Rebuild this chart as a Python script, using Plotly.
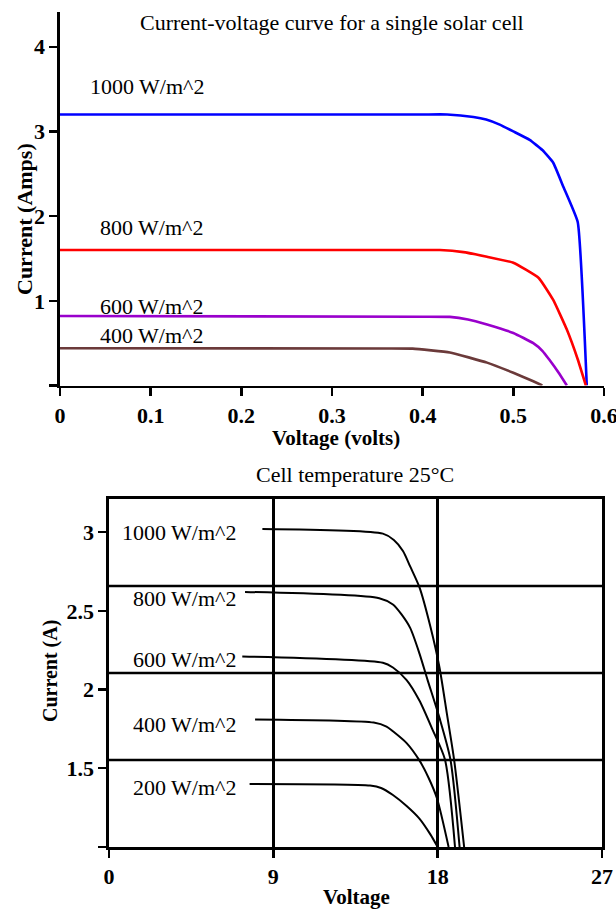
import plotly.graph_objects as go

W, H = 616, 909

# ---------------- data: top chart (single solar cell) ----------------
v1000 = [0.0, 0.40, 0.427, 0.456, 0.47, 0.485, 0.50, 0.518, 0.532, 0.544, 0.555, 0.571, 0.581]
i1000 = [3.2, 3.2, 3.2, 3.17, 3.14, 3.08, 3.0, 2.90, 2.78, 2.63, 2.35, 1.93, 0.0]
v800 = [0.0, 0.39, 0.419, 0.445, 0.471, 0.50, 0.528, 0.544, 0.559, 0.571, 0.58]
i800 = [1.6, 1.6, 1.6, 1.575, 1.52, 1.45, 1.27, 1.01, 0.66, 0.31, 0.0]
v600 = [0.0, 0.40, 0.43, 0.45, 0.471, 0.50, 0.522, 0.532, 0.54, 0.55, 0.559]
i600 = [0.82, 0.812, 0.81, 0.78, 0.72, 0.62, 0.50, 0.41, 0.30, 0.15, 0.0]
v400 = [0.0, 0.36, 0.389, 0.43, 0.471, 0.50, 0.522, 0.532]
i400 = [0.44, 0.437, 0.435, 0.39, 0.27, 0.15, 0.05, 0.0]
top_labels = ["1000 W/m^2", "800 W/m^2", "600 W/m^2", "400 W/m^2"]
top_label_v = [0.031, 0.042, 0.042, 0.042]
top_label_i = [3.53, 1.87, 0.93, 0.585]
top_colors = ["#0000ff", "#ff0000", "#9900cc", "#6b3a3a"]
top_xticks = [0, 0.1, 0.2, 0.3, 0.4, 0.5, 0.6]
top_yticks = [0, 1, 2, 3, 4]
top_yticktext = ["", "1", "2", "3", "4"]

# ---------------- data: bottom chart (module, 25 C) ----------------
b1000_v = [8.4, 15.0, 15.6, 16.1, 16.5, 17.0, 17.6, 18.1, 18.5, 18.9, 19.45]
b1000_i = [3.02, 2.99, 2.95, 2.88, 2.78, 2.65, 2.40, 2.14, 1.85, 1.555, 1.0]
b800_v = [7.45, 14.8, 15.55, 16.0, 16.5, 17.0, 17.45, 18.1, 18.7, 19.2]
b800_i = [2.62, 2.58, 2.54, 2.48, 2.39, 2.23, 2.06, 1.82, 1.555, 1.0]
b600_v = [7.3, 15.0, 15.55, 16.3, 17.0, 17.7, 18.4, 18.95]
b600_i = [2.21, 2.17, 2.14, 2.06, 1.93, 1.75, 1.555, 1.0]
b400_v = [8.0, 14.5, 15.2, 15.55, 16.3, 17.0, 17.5, 17.96, 18.6]
b400_i = [1.81, 1.79, 1.765, 1.735, 1.66, 1.55, 1.44, 1.31, 1.0]
b200_v = [7.7, 14.3, 14.9, 15.55, 16.3, 17.0, 17.6, 18.0]
b200_i = [1.40, 1.39, 1.375, 1.33, 1.26, 1.18, 1.08, 1.0]
bot_labels = ["1000 W/m^2", "800 W/m^2", "600 W/m^2", "400 W/m^2", "200 W/m^2"]
bot_label_v = [7.06, 7.06, 7.06, 7.06, 7.06]
bot_label_i = [3.0, 2.58, 2.19, 1.78, 1.38]
bot_xticks = [0, 9, 18, 27]
bot_yticks = [1, 1.5, 2, 2.5, 3]
bot_yticktext = ["", "1.5", "2", "2.5", "3"]
bot_grid_i = [1.5525, 2.105, 2.6575]

SERIF = "Liberation Serif"

fig = go.Figure()

top_series = [(v1000, i1000), (v800, i800), (v600, i600), (v400, i400)]
for (vx, iy), col in zip(top_series, top_colors):
    fig.add_trace(go.Scatter(x=vx, y=iy, mode="lines", xaxis="x", yaxis="y",
                             line=dict(color=col, width=2.6, shape="spline",
                                       smoothing=0.35),
                             showlegend=False, hoverinfo="skip"))

bot_series = [(b1000_v, b1000_i), (b800_v, b800_i), (b600_v, b600_i),
              (b400_v, b400_i), (b200_v, b200_i)]
for vx, iy in bot_series:
    fig.add_trace(go.Scatter(x=vx, y=iy, mode="lines", xaxis="x2", yaxis="y2",
                             line=dict(color="black", width=2, shape="spline",
                                       smoothing=0.7),
                             showlegend=False, hoverinfo="skip"))

tickfont = dict(family=SERIF, size=22, color="black", weight="bold")
axcommon = dict(showline=True, linecolor="black", linewidth=2.6, ticks="outside",
                ticklen=8, tickwidth=2.4, tickcolor="black", tickfont=tickfont,
                zeroline=False, fixedrange=True, automargin=False,
                ticklabeloverflow="allow")

fig.update_layout(
    width=W, height=H, autosize=False, margin=dict(l=0, r=0, t=0, b=0, pad=0),
    paper_bgcolor="white", plot_bgcolor="white", hovermode=False,
    xaxis=dict(domain=[60 / W, 604 / W], range=[0, 0.6], tickvals=top_xticks,
               ticktext=[str(t) for t in top_xticks], showgrid=False,
               anchor="y", **axcommon),
    yaxis=dict(domain=[1 - 385.5 / H, 1 - 12 / H], range=[0, 4.41],
               tickvals=top_yticks, ticktext=top_yticktext, showgrid=False,
               anchor="x", **axcommon),
    xaxis2=dict(domain=[109 / W, 602 / W], range=[0, 27], tickvals=bot_xticks,
                showgrid=True, gridcolor="black", gridwidth=2.6, mirror=True,
                anchor="y2", **axcommon),
    yaxis2=dict(domain=[1 - 847 / H, 1 - 499 / H], range=[1, 3.21],
                tickvals=bot_yticks, ticktext=bot_yticktext, showgrid=False,
                mirror=True, anchor="x2", **axcommon),
)

shapes = []
for g in bot_grid_i:
    shapes.append(dict(type="line", xref="x2", yref="y2", x0=0, x1=27, y0=g, y1=g,
                       line=dict(color="black", width=2.6), layer="below"))
fig.update_layout(shapes=shapes)

ann = []
lblfont = dict(family=SERIF, size=22, color="black")
for t, vx, iy in zip(top_labels, top_label_v, top_label_i):
    ann.append(dict(text=t, x=vx, y=iy, xref="x", yref="y", showarrow=False,
                    xanchor="left", yanchor="middle", font=lblfont))
for t, vx, iy in zip(bot_labels, bot_label_v, bot_label_i):
    ann.append(dict(text=t, x=vx, y=iy, xref="x2", yref="y2", showarrow=False,
                    xanchor="right", yanchor="middle", font=lblfont))

titlefont = dict(family=SERIF, size=22, color="black")
ann += [
    dict(text="Current-voltage curve for a single solar cell", x=332 / W, y=1 - 22 / H,
         xref="paper", yref="paper", showarrow=False, xanchor="center",
         yanchor="middle", font=titlefont),
    dict(text="Cell temperature 25°C", x=355 / W, y=1 - 475 / H,
         xref="paper", yref="paper", showarrow=False, xanchor="center",
         yanchor="middle", font=titlefont),
    dict(text="Voltage (volts)", x=336 / W, y=1 - 438 / H, xref="paper",
         yref="paper", showarrow=False, xanchor="center", yanchor="middle",
         font=dict(family=SERIF, size=21, color="black", weight="bold")),
    dict(text="Voltage", x=356 / W, y=1 - 897 / H, xref="paper",
         yref="paper", showarrow=False, xanchor="center", yanchor="middle",
         font=dict(family=SERIF, size=21, color="black", weight="bold")),
    dict(text="Current (Amps)", x=24 / W, y=1 - 219 / H, xref="paper",
         yref="paper", showarrow=False, xanchor="center", yanchor="middle",
         textangle=-90, font=dict(family=SERIF, size=22, color="black", weight="bold")),
    dict(text="Current (A)", x=50 / W, y=1 - 671 / H, xref="paper",
         yref="paper", showarrow=False, xanchor="center", yanchor="middle",
         textangle=-90, font=dict(family=SERIF, size=20, color="black", weight="bold")),
]
fig.update_layout(annotations=ann)

fig.write_html("out.html",
               config={"responsive": False, "displayModeBar": False,
                       "staticPlot": True},
               post_script="document.body.style.margin='0px';")
